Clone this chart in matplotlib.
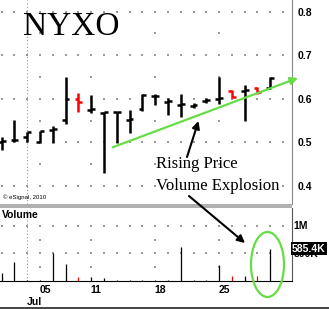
import numpy as np
import matplotlib.pyplot as plt
from matplotlib.patches import Ellipse, Rectangle
import matplotlib.transforms as mtransforms

# daily bars, Jun 29 - Jul 29
days = [29, 30, 1, 5, 6, 7, 8, 11, 12, 13, 14, 15, 18, 19, 20, 21, 22, 25, 26, 27, 28, 29]
opens = [0.500, 0.505, 0.513, 0.500, 0.528, 0.552, 0.599, 0.575, 0.568, 0.569, 0.552,
         0.576, 0.606, 0.593, 0.585, 0.584, 0.596, 0.600, 0.617, 0.618, 0.626, 0.624]
highs = [0.513, 0.552, 0.525, 0.527, 0.537, 0.651, 0.613, 0.609, 0.571, 0.571, 0.575,
         0.611, 0.611, 0.601, 0.611, 0.590, 0.601, 0.651, 0.621, 0.632, 0.628, 0.651]
lows = [0.483, 0.500, 0.500, 0.498, 0.498, 0.542, 0.571, 0.568, 0.430, 0.499, 0.521,
        0.573, 0.586, 0.563, 0.559, 0.578, 0.590, 0.589, 0.601, 0.550, 0.612, 0.622]
closes = [0.503, 0.506, 0.525, 0.527, 0.532, 0.600, 0.592, 0.577, 0.570, 0.571, 0.554,
          0.608, 0.607, 0.595, 0.588, 0.585, 0.597, 0.602, 0.605, 0.620, 0.615, 0.649]
volume = [139e3, 338e3, 10e3, 24e3, 506e3, 307e3, 78e3, 78e3, 54e3, 24e3, 24e3,
          24e3, 24e3, 24e3, 609e3, 24e3, 24e3, 289e3, 96e3, 96e3, 96e3, 585.4e3]
week_days = [5, 11, 18, 25]
price_ticks = [0.4, 0.5, 0.6, 0.7, 0.8]
last_vol_label = '585.4K'

W, H = 329, 309
fig = plt.figure(figsize=(W / 100, H / 100), dpi=100)
plt.rcParams['font.family'] = ['Liberation Sans', 'DejaVu Sans']

x = np.arange(len(days))
up_col, dn_col = 'black', 'red'
cols = [dn_col if c < o else up_col for o, c in zip(opens, closes)]
week_idx = [days.index(d, 3) for d in week_days]
jul_idx = days.index(1)

# --- price panel ---
ax = fig.add_axes([0, 1 - 204 / H, 292 / W, 204 / H])
ax.set_xlim(-0.133, 22.70)
ax.set_ylim(0.3589, 0.8268)

# dotted grid
gx = np.arange(len(days) + 1)
for lvl in price_ticks:
    ax.scatter(gx, [lvl] * len(gx), s=0.6, marker='s', color='#999999', lw=0, zorder=1)
for wi in week_idx:
    for lvl in [0.45, 0.55, 0.65, 0.75]:
        ax.scatter([wi], [lvl], s=0.6, marker='s', color='#999999', lw=0, zorder=1)
ax.axvline(jul_idx - 0.05, color='#999999', lw=0.8, ls=(0, (1, 2)), zorder=1)

tick = 0.3
for i in x:
    c = cols[i]
    ax.vlines(i, lows[i], highs[i], color=c, lw=1.8, zorder=3)
    ax.hlines(opens[i], i - tick, i, color=c, lw=1.8, zorder=3)
    ax.hlines(closes[i], i, i + tick, color=c, lw=1.8, zorder=3)

ax.yaxis.tick_right()
ax.set_yticks(price_ticks)
ax.set_yticklabels([f'{v:.1f}' for v in price_ticks], fontsize=7.5, fontweight='bold')
ax.tick_params(axis='y', length=0, pad=4)
ax.set_xticks([])
for s in ['top', 'left', 'bottom']:
    ax.spines[s].set_visible(False)
ax.spines['right'].set_color('#888888')

ax.text(0.078, 0.83, 'NYXO', transform=ax.transAxes, fontsize=24,
        family='Liberation Serif', va='baseline', ha='left')
ax.text(0.01, 0.02, '\u00a9 eSignal, 2010', transform=ax.transAxes, fontsize=4.3,
        va='bottom', ha='left')

# green trend arrow
ax.annotate('', xy=(23.17, 0.648), xytext=(8.68, 0.489), annotation_clip=False,
            arrowprops=dict(arrowstyle='-|>', color='#66dd44', lw=1.6,
                            mutation_scale=11, shrinkA=0, shrinkB=0))

# --- volume panel ---
axv = fig.add_axes([0, 1 - 281 / H, 292 / W, 73 / H])
axv.set_xlim(-0.133, 22.70)
axv.set_ylim(0, 1.32e6)
for lvl in [0.5e6, 1e6]:
    axv.scatter(gx, [lvl] * len(gx), s=0.6, marker='s', color='#999999', lw=0, zorder=1)
for wi in week_idx:
    for lvl in [0.25e6, 0.75e6]:
        axv.scatter([wi], [lvl], s=0.6, marker='s', color='#999999', lw=0, zorder=1)
axv.axvline(jul_idx - 0.05, color='#999999', lw=0.8, ls=(0, (1, 2)), zorder=1)
axv.vlines(x, 0, volume, colors=cols, lw=0.9, zorder=3)

axv.set_xticks([])
axv.set_yticks([])
for s in ['top', 'left']:
    axv.spines[s].set_visible(False)
axv.spines['right'].set_color('#555555')
axv.spines['bottom'].set_color('black')
axv.text(0.005, 0.97, 'Volume', transform=axv.transAxes, fontsize=7.5,
         fontweight='bold', va='top', ha='left')

ytr = mtransforms.blended_transform_factory(axv.transAxes, axv.transData)
axv.text(1.005, 1e6, '1M', transform=ytr, fontsize=7.5, fontweight='bold', va='center')
axv.text(1.005, 0.48e6, '500K', transform=ytr, fontsize=7.5, fontweight='bold',
         va='center', zorder=4)
axv.text(1.0, volume[-1], last_vol_label, transform=ytr, fontsize=7.5, fontweight='bold',
         va='center', color='white', zorder=6,
         bbox=dict(boxstyle='square,pad=0.12', fc='black', ec='none'))

xtr = mtransforms.blended_transform_factory(axv.transData, axv.transAxes)
for wi, d in zip(week_idx, week_days):
    axv.text(wi - 0.05, -0.05, f'{d:02d}', transform=xtr, fontsize=7.5,
             fontweight='bold', va='top', ha='left')
axv.text(jul_idx - 0.05, -0.22, 'Jul', transform=xtr, fontsize=7.5,
         fontweight='bold', va='top', ha='left')

# --- overlay for hand-drawn notes ---
ov = fig.add_axes([0, 0, 1, 1], zorder=5)
ov.set_xlim(0, W)
ov.set_ylim(H, 0)
ov.axis('off')
ov.patch.set_alpha(0)
ov.add_patch(Rectangle((0, 204), 292, 3.5, color='#b0b0b0', lw=0))
ov.plot([0, W], [307.5, 307.5], color='#222222', lw=1.2)
ov.text(156, 168, 'Rising Price', family='Liberation Serif', fontsize=12,
        va='baseline', ha='left')
ov.text(156, 190, 'Volume Explosion', family='Liberation Serif', fontsize=12,
        va='baseline', ha='left')
ov.annotate('', xy=(198.5, 121), xytext=(187, 157),
            arrowprops=dict(arrowstyle='-|>', color='black', lw=1.5,
                            mutation_scale=11, shrinkA=0, shrinkB=0))
ov.annotate('', xy=(245, 243), xytext=(189, 196),
            arrowprops=dict(arrowstyle='-|>', color='black', lw=1.5,
                            mutation_scale=11, shrinkA=0, shrinkB=0))
ov.add_patch(Ellipse((267.5, 264.5), 33, 65, fill=False, ec='#66dd44', lw=1.6))

fig.savefig('out.png', dpi=100)
